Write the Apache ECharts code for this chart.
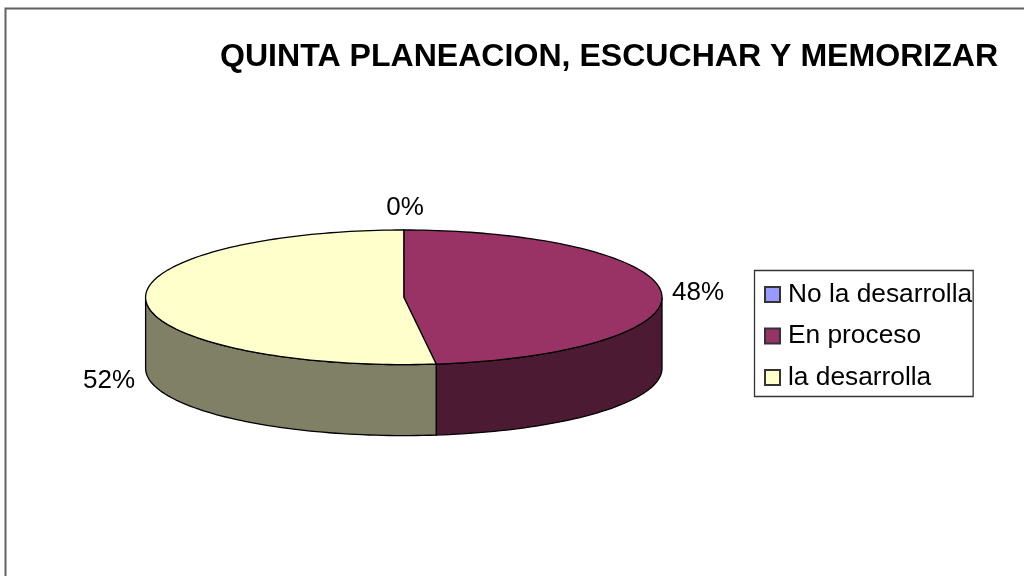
<!DOCTYPE html>
<html>
<head>
<meta charset="utf-8">
<title>Quinta planeacion</title>
<script src="https://cdn.jsdelivr.net/npm/echarts@6/dist/echarts.min.js"></script>
<style>
  html, body { margin: 0; padding: 0; background: #fff; }
  #chart { width: 1024px; height: 576px; }
</style>
</head>
<body>
<div id="chart"></div>
<script>
// values
const chartTitle = 'QUINTA PLANEACION, ESCUCHAR Y MEMORIZAR'
const categories = ['No la desarrolla', 'En proceso', 'la desarrolla']
const values = [0, 48, 52]

const topColors = ['#9999FF', '#993366', '#FFFFCC']
const sideColors = ['#4D4D80', '#4D1A33', '#808066']
const fontName = '"Liberation Sans", Arial, sans-serif'

// the tilted disc
const disc = { cx: 403.8, cy: 297.3, rx: 258.2, ry: 67.3, depth: 71 }
// label centres, Excel puts them by hand-ish rules so they are just placed
const labelSpots = [[405, 208], [698, 293], [109, 381]]

const total = values.reduce((a, b) => a + b, 0)

function rimPoint (deg, drop) {
  const r = deg * Math.PI / 180
  return [disc.cx + disc.rx * Math.sin(r), disc.cy - disc.ry * Math.cos(r) + drop]
}

function arcPoints (from, to, drop) {
  const pts = []
  const n = Math.max(1, Math.ceil(Math.abs(to - from) / 1.5))
  for (let i = 0; i <= n; i++) {
    pts.push(rimPoint(from + (to - from) * i / n, drop))
  }
  return pts
}

function renderSlice (idx) {
  return function (params, api) {
    const value = api.value(0)
    let before = 0
    for (let i = 0; i < idx; i++) before += values[i]
    const start = before / total * 360
    const end = (before + value) / total * 360
    const children = []

    // outer wall, only the front half of the rim shows
    const wallFrom = Math.max(start, 90)
    const wallTo = Math.min(end, 270)
    if (wallTo > wallFrom) {
      const wall = arcPoints(wallFrom, wallTo, 0).concat(arcPoints(wallTo, wallFrom, disc.depth))
      children.push({
        type: 'polygon',
        shape: { points: wall },
        style: { fill: sideColors[idx], stroke: '#000', lineWidth: 1.3 }
      })
    }

    // top face
    if (value > 0) {
      const face = [[disc.cx, disc.cy]].concat(arcPoints(start, end, 0))
      children.push({
        type: 'polygon',
        shape: { points: face },
        style: { fill: topColors[idx], stroke: '#000', lineWidth: 1.3 }
      })
    }

    children.push({
      type: 'text',
      style: {
        text: Math.round(value / total * 100) + '%',
        x: labelSpots[idx][0],
        y: labelSpots[idx][1],
        align: 'center',
        verticalAlign: 'middle',
        font: '26px ' + fontName,
        fill: '#000'
      }
    })
    return { type: 'group', children: children }
  }
}

const chart = echarts.init(document.getElementById('chart'))
chart.setOption({
  backgroundColor: '#fff',
  animation: false,
  title: {
    text: chartTitle,
    left: 220,
    top: 41,
    padding: 0,
    textStyle: { fontFamily: fontName, fontSize: 32.1, fontWeight: 'bold', color: '#000' }
  },
  legend: {
    orient: 'vertical',
    left: 754.5,
    top: 270.5,
    padding: [10, 1, 5, 9.5],
    itemWidth: 15,
    itemHeight: 15,
    itemGap: 13.5,
    icon: 'rect',
    selectedMode: false,
    borderColor: '#333',
    borderWidth: 1.3,
    textStyle: { fontFamily: fontName, fontSize: 26.3, color: '#000', padding: [2, 0, 0, 3], lineHeight: 26 },
    data: categories
  },
  graphic: [{
    type: 'rect',
    silent: true,
    z: -1,
    shape: { x: 5.5, y: 8.5, width: 1200, height: 800 },
    style: { fill: 'none', stroke: '#606060', lineWidth: 2 }
  }],
  series: categories.map((name, i) => ({
    name: name,
    type: 'custom',
    coordinateSystem: 'none',
    clip: false,
    renderItem: renderSlice(i),
    itemStyle: { color: topColors[i], borderColor: '#333', borderWidth: 1 },
    data: [[values[i]]]
  }))
})
</script>
</body>
</html>
